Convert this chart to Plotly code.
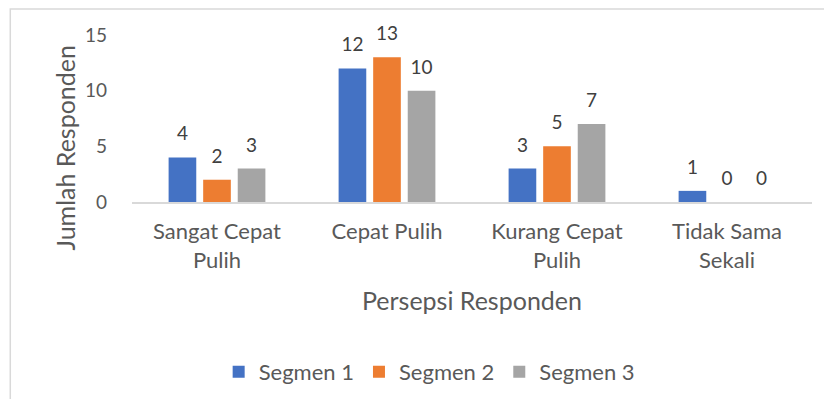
import plotly.graph_objects as go

categories = ["Sangat Cepat<br>Pulih", "Cepat Pulih", "Kurang Cepat<br>Pulih", "Tidak Sama<br>Sekali"]
segmen_1 = [4, 12, 3, 1]
segmen_2 = [2, 13, 5, 0]
segmen_3 = [3, 10, 7, 0]
series_names = ["Segmen 1", "Segmen 2", "Segmen 3"]
colors = ["#4472C4", "#ED7D31", "#A5A5A5"]

font_name = "Lato, Open Sans, sans-serif"
grey_text = "#595959"
gap = 0.39

fig = go.Figure()
for name, vals, col in zip(series_names, [segmen_1, segmen_2, segmen_3], colors):
    fig.add_trace(go.Bar(x=categories, y=vals, name=name, marker_color=col,
                         marker_line_width=0))

# data labels: grouped text points sitting a bit above each bar
for name, vals in zip(series_names, [segmen_1, segmen_2, segmen_3]):
    fig.add_trace(go.Scatter(
        x=categories, y=vals, mode="markers+text", text=vals,
        textposition="top center", orientation="v",
        marker=dict(size=18, color="rgba(0,0,0,0)"),
        textfont=dict(size=19, color="#404040", family=font_name),
        showlegend=False, hoverinfo="skip", cliponaxis=False,
    ))

# page body adds an 8px margin, so the figure is a bit smaller than the window
fig.update_layout(
    width=816, height=391,
    margin=dict(l=124, r=12, t=27, b=197, autoexpand=False),
    paper_bgcolor="white", plot_bgcolor="white",
    barmode="group", bargap=gap, bargroupgap=0.2,
    scattermode="group", scattergap=gap,
    font=dict(family=font_name, color=grey_text),
    showlegend=True,
    legend=dict(orientation="h", x=0.437, xanchor="center",
                yref="container", y=0.069, yanchor="middle",
                font=dict(size=22, color=grey_text), traceorder="normal",
                itemwidth=30),
    xaxis=dict(
        tickfont=dict(size=22, color=grey_text),
        showline=True, linecolor="#D9D9D9", linewidth=1.5,
        ticks="", showgrid=False, ticklabelstandoff=9, automargin=False,
        title=dict(text="Persepsi Responden", font=dict(size=25, color=grey_text), standoff=21),
    ),
    yaxis=dict(
        range=[0, 15], tickvals=[0, 5, 10, 15],
        tickfont=dict(size=19, color=grey_text),
        showgrid=False, zeroline=False, showline=False, ticks="",
        ticklabelstandoff=24, automargin=False,
    ),
    annotations=[dict(text="Jumlah Responden", textangle=-90, showarrow=False,
                      xref="paper", yref="paper", x=-0.0985, y=0.326,
                      xanchor="center", yanchor="middle",
                      font=dict(size=25, color=grey_text))],
    shapes=[dict(type="rect", xref="paper", yref="paper",
                 x0=-0.179, x1=1.04, y0=-1.35, y1=1.156,
                 line=dict(color="#D9D9D9", width=1.5))],
)

fig.write_html("out.html")
